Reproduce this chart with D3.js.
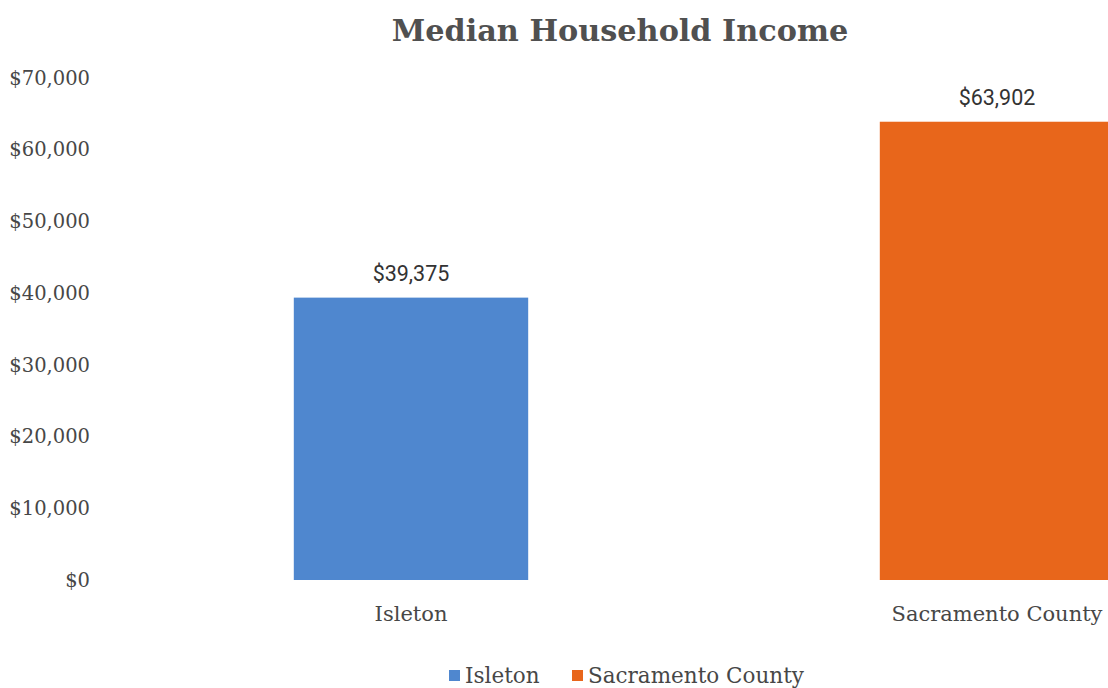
<!DOCTYPE html>
<html>
<head>
<meta charset="utf-8">
<script src="https://cdn.jsdelivr.net/npm/d3@7"></script>
<style>
  body { margin: 0; background: #fff; }
  svg { display: block; }
</style>
</head>
<body>
<div id="chart"></div>
<script>
// chart data
var categories = ["Isleton", "Sacramento County"];
var values = [39375, 63902];
var colors = ["#4f87cf", "#e8661b"];
var yTicks = [0, 10000, 20000, 30000, 40000, 50000, 60000, 70000];

var W = 1108, H = 688;
var slab = "'DejaVu Serif', serif";
var sans = "Roboto, 'Liberation Sans', sans-serif";

var svg = d3.select("#chart").append("svg")
    .attr("width", W).attr("height", H);

// plot area runs past the right edge (reference is cropped)
var x = d3.scaleBand()
    .domain(categories)
    .range([118, 1290])
    .paddingInner(0.6)
    .paddingOuter(0.3);

var y = d3.scaleLinear()
    .domain([0, 70000])
    .range([580, 78]);

var money = d3.format("$,");

// title
svg.append("text")
    .attr("x", 620).attr("y", 41)
    .attr("text-anchor", "middle")
    .style("font-family", slab)
    .style("font-weight", "bold")
    .style("font-size", "30.3px")
    .style("fill", "#505050")
    .text("Median Household Income");

// y axis labels
var yAxis = d3.axisLeft(y).tickValues(yTicks).tickFormat(money).tickSize(0).tickPadding(0);
var gy = svg.append("g").attr("transform", "translate(90,0)").call(yAxis);
gy.select(".domain").remove();
gy.selectAll("text")
    .style("font-family", slab)
    .style("font-size", "19.5px")
    .style("fill", "#474747");

// bars
svg.selectAll("rect.bar")
    .data(values)
    .join("rect")
    .attr("class", "bar")
    .attr("x", function (d, i) { return x(categories[i]); })
    .attr("y", function (d) { return y(d); })
    .attr("width", x.bandwidth())
    .attr("height", function (d) { return y(0) - y(d); })
    .attr("fill", function (d, i) { return colors[i]; });

// value labels
svg.selectAll("text.val")
    .data(values)
    .join("text")
    .attr("class", "val")
    .attr("x", function (d, i) { return x(categories[i]) + x.bandwidth() / 2; })
    .attr("y", function (d) { return y(d) - 17; })
    .attr("text-anchor", "middle")
    .style("font-family", sans)
    .style("font-size", "21.5px")
    .style("fill", "#333")
    .text(function (d) { return money(d); });

// category labels
var xAxis = d3.axisBottom(x).tickSize(0).tickPadding(0);
var gx = svg.append("g").attr("transform", "translate(0,606)").call(xAxis);
gx.select(".domain").remove();
gx.selectAll("text")
    .style("font-family", slab)
    .style("font-size", "21px")
    .style("fill", "#474747");

// legend
var legendX = [449, 572];
var lg = svg.selectAll("g.leg")
    .data(categories)
    .join("g")
    .attr("class", "leg")
    .attr("transform", function (d, i) { return "translate(" + legendX[i] + ",670)"; });
lg.append("rect")
    .attr("width", 11).attr("height", 11).attr("y", 0)
    .attr("fill", function (d, i) { return colors[i]; });
lg.append("text")
    .attr("x", 16).attr("y", 13)
    .style("font-family", slab)
    .style("font-size", "21.5px")
    .style("fill", "#474747")
    .text(function (d) { return d; });
</script>
</body>
</html>
